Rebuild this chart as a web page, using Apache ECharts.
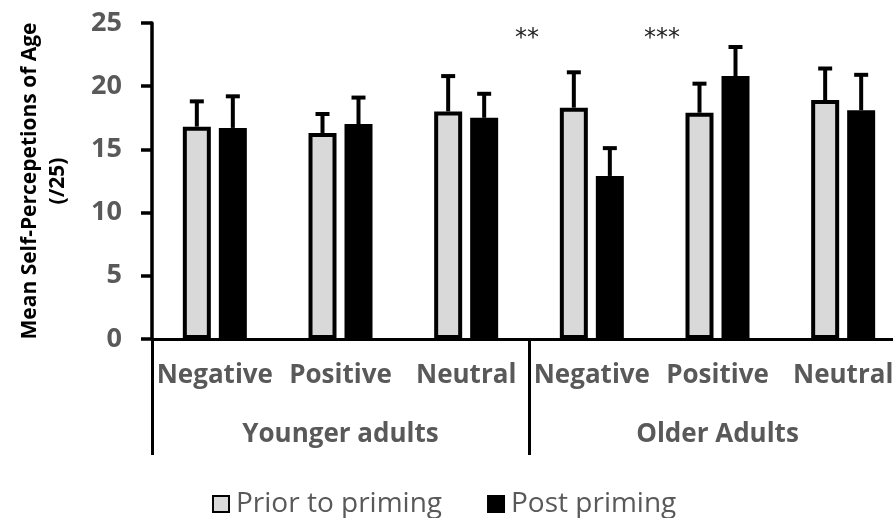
<!DOCTYPE html>
<html>
<head>
<meta charset="utf-8">
<script src="https://cdn.jsdelivr.net/npm/echarts@6/dist/echarts.min.js"></script>
<style>
  html, body { margin: 0; padding: 0; background: #fff; }
  #chart { width: 893px; height: 518px; }
</style>
</head>
<body>
<div id="chart"></div>
<script>
// Priming conditions within each age group
const categories = ['Negative', 'Positive', 'Neutral', 'Negative', 'Positive', 'Neutral'];
const groups = ['Younger adults', 'Older Adults'];

// Mean self-perceptions of age (/25) and their error bars
const priorMeans = [16.8, 16.3, 18.0, 18.3, 17.9, 18.9];
const postMeans  = [16.7, 17.0, 17.5, 12.9, 20.8, 18.1];
const priorErr   = [2.0, 1.5, 2.8, 2.8, 2.3, 2.5];
const postErr    = [2.5, 2.1, 1.9, 2.2, 2.3, 2.8];

const yTicks = [0, 5, 10, 15, 20, 25];

const BAR_W = 28;
const BAR_OFFSET = 18; // half the distance between paired bar centres

function errorSeries(means, errs, offset) {
  return {
    type: 'custom',
    xAxisIndex: 0,
    z: 5,
    silent: true,
    data: means.map((m, i) => [i, m, errs[i]]),
    encode: { x: 0, y: 1 },
    renderItem: function (params, api) {
      const base = api.coord([api.value(0), api.value(1)]);
      const top = api.coord([api.value(0), api.value(1) + api.value(2)]);
      const x = base[0] + offset;
      const style = { stroke: '#000', lineWidth: 4 };
      return {
        type: 'group',
        children: [
          { type: 'line', shape: { x1: x, y1: base[1], x2: x, y2: top[1] }, style: style },
          { type: 'line', shape: { x1: x - 7, y1: top[1], x2: x + 7, y2: top[1] }, style: style }
        ]
      };
    }
  };
}

const chart = echarts.init(document.getElementById('chart'), null, { renderer: 'canvas' });

chart.setOption({
  animation: false,
  backgroundColor: '#fff',
  grid: { left: 152, top: 23, width: 754, height: 316, containLabel: false, outerBoundsMode: 'none' },
  legend: {
    left: 207,
    top: 485,
    icon: 'rect',
    itemWidth: 16,
    itemHeight: 16,
    itemGap: 45,
    data: ['Prior to priming', 'Post priming'],
    textStyle: { fontFamily: 'Open Sans', fontSize: 28, color: '#595959', padding: [0, 0, 0, 2] }
  },
  xAxis: [
    {
      type: 'category',
      data: categories,
      position: 'bottom',
      axisLine: { show: true, lineStyle: { color: '#000', width: 3 } },
      axisTick: { show: false },
      axisLabel: {
        interval: 0,
        margin: 24,
        fontFamily: 'Open Sans',
        fontWeight: 'bold',
        fontSize: 26,
        color: '#595959'
      },
      splitLine: { show: false }
    },
    {
      type: 'category',
      data: groups,
      position: 'bottom',
      axisLine: { show: false },
      axisTick: { show: true, length: 116, interval: 0, lineStyle: { color: '#000', width: 3 } },
      axisLabel: {
        interval: 0,
        margin: 83,
        fontFamily: 'Open Sans',
        fontWeight: 'bold',
        fontSize: 26,
        color: '#595959'
      },
      splitLine: { show: false }
    }
  ],
  yAxis: {
    type: 'value',
    min: yTicks[0],
    max: yTicks[yTicks.length - 1],
    interval: 5,
    name: 'Mean Self-Percepetions of Age\n(/25)',
    nameLocation: 'middle',
    nameGap: 80,
    nameTextStyle: {
      fontFamily: 'Open Sans',
      fontWeight: 'bold',
      fontSize: 21,
      color: '#000',
      lineHeight: 28
    },
    axisLine: { show: true, lineStyle: { color: '#000', width: 3.5 } },
    axisTick: { show: true, length: 11, lineStyle: { color: '#000', width: 3.5 } },
    axisLabel: {
      margin: 30,
      fontFamily: 'Open Sans',
      fontWeight: 'bold',
      fontSize: 27,
      color: '#595959'
    },
    splitLine: { show: false }
  },
  series: [
    {
      name: 'Prior to priming',
      type: 'bar',
      xAxisIndex: 0,
      barWidth: BAR_W,
      barGap: ((2 * BAR_OFFSET - BAR_W) / BAR_W * 100) + '%',
      data: priorMeans,
      itemStyle: { color: '#d9d9d9', borderColor: '#000', borderWidth: 4 }
    },
    {
      name: 'Post priming',
      type: 'bar',
      xAxisIndex: 0,
      barWidth: BAR_W,
      data: postMeans,
      itemStyle: { color: '#000', borderColor: '#000', borderWidth: 4 }
    },
    errorSeries(priorMeans, priorErr, -BAR_OFFSET),
    errorSeries(postMeans, postErr, BAR_OFFSET)
  ],
  graphic: [
    { type: 'text', left: 515, top: 27, style: { text: '**', font: '24px "DejaVu Sans"', fill: '#222' } },
    { type: 'text', left: 644, top: 27, style: { text: '***', font: '24px "DejaVu Sans"', fill: '#222' } }
  ]
});
</script>
</body>
</html>
